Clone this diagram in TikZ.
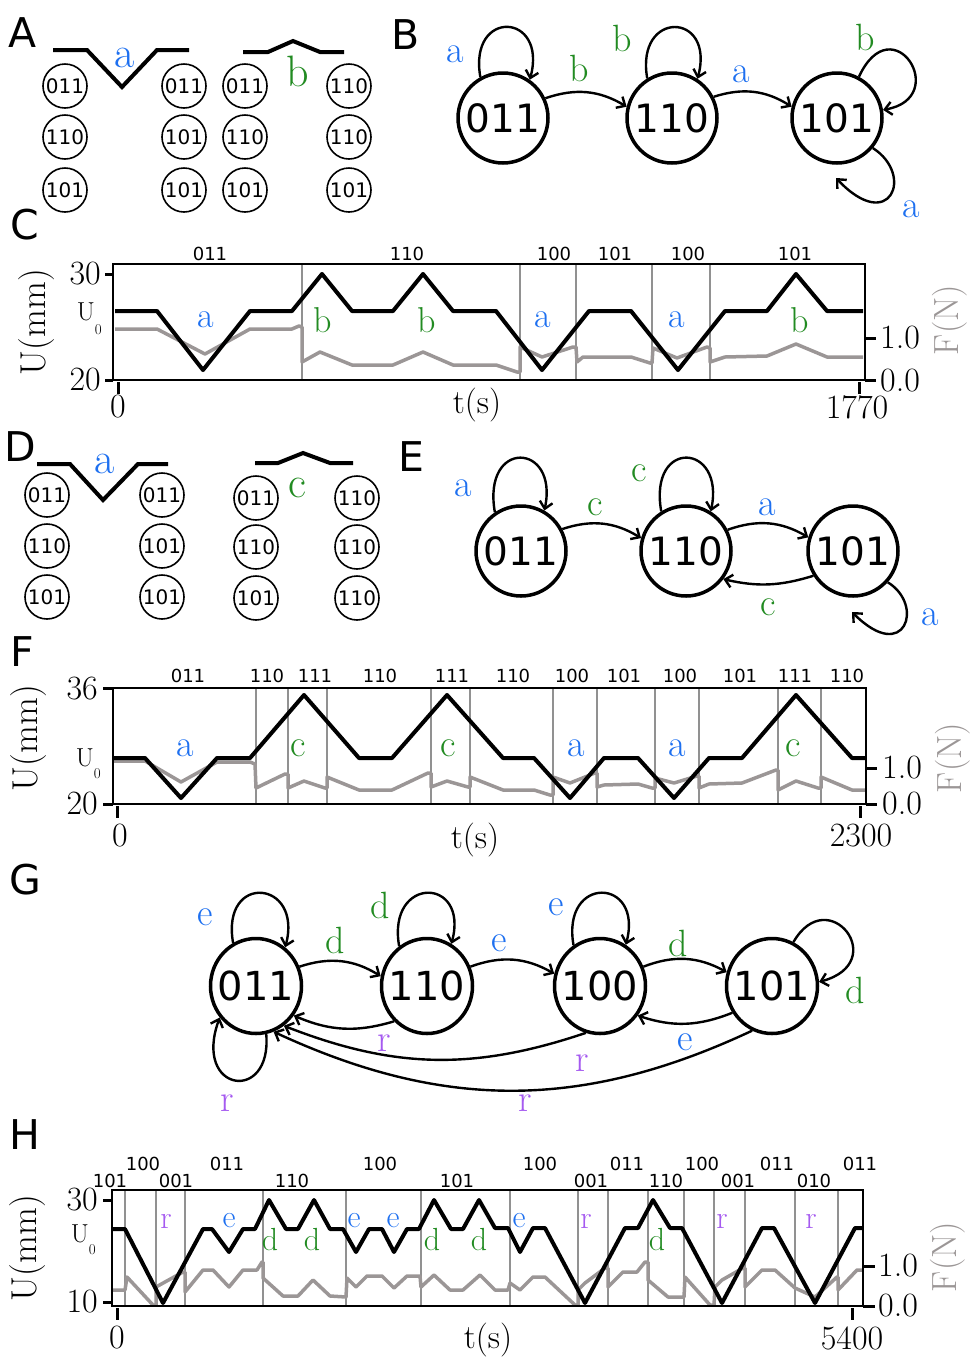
\documentclass[tikz,border=0pt]{standalone}
\usepackage{fontspec}
\usetikzlibrary{arrows.meta,shapes.geometric}
\newfontfamily\statefont{DejaVu Sans}
\definecolor{tblue}{RGB}{30,112,240}
\definecolor{tgreen}{RGB}{34,139,34}
\definecolor{tpurple}{RGB}{165,90,240}
\definecolor{fgray}{RGB}{155,150,150}
\definecolor{vgray}{RGB}{145,145,145}
\tikzset{
  lsz/.style={font=\fontsize{#1}{#1}\selectfont},
  blab/.style={text=tblue},
  glab/.style={text=tgreen},
  plab/.style={text=tpurple},
  flab/.style={text=fgray},
  panel/.style={font=\statefont\fontsize{41}{41}\selectfont},
  bigstate/.style={circle, draw, line width=3.5pt, minimum size=90pt, font=\statefont\fontsize{39}{39}\selectfont},
  ovalstate/.style={ellipse, draw, line width=3.5pt, inner xsep=-15pt, minimum width=91pt, minimum height=95pt, font=\statefont\fontsize{40}{40}\selectfont},
  smallstate/.style={circle, draw, line width=1.6pt, minimum size=44pt, font=\statefont\fontsize{20}{20}\selectfont},
  toplab/.style={font=\statefont\fontsize{18}{18}\selectfont},
  trans/.style={-{Straight Barb[length=7pt,width=13pt]}, line width=2.4pt},
  wavepath/.style={line width=4pt},
  uline/.style={line width=4pt, line join=round},
  fline/.style={line width=3.5pt, fgray, line join=round},
  vline/.style={line width=1.5pt, vgray},
  plotbox/.style={line width=2.5pt},
  axtick/.style={line width=3pt}
}
\begin{document}
\begin{tikzpicture}[x=1pt, y=1pt, inner sep=0pt]
  \useasboundingbox (0,0) rectangle (978,-1361);

  % Panel A: the moves a and b
  \node[panel] (pA) at (23,-33) {A};
  \draw[wavepath] (53,-50) -- (87,-50) -- (122,-87) -- (157,-50) -- (189,-50);
  \node[blab, lsz=44] (wa) at (125,-58) {a};
  \draw[wavepath] (243,-52) -- (268,-52) -- (293,-41) -- (320,-52) -- (344,-52);
  \node[glab, lsz=44] (wb) at (298,-71) {b};
  \foreach \x/\nm/\ta/\tb/\tc in {65/al/011/110/101, 184/ar/011/101/101, 245/bl/011/110/101, 349/br/110/110/101} {
    \node[smallstate] (\nm1) at (\x,-86) {\ta};
    \node[smallstate] (\nm2) at (\x,-137) {\tb};
    \node[smallstate] (\nm3) at (\x,-190) {\tc};
  }

  % Panel B: state graph
  \node[panel] (pB) at (406,-35) {B};
  \node[bigstate] (b011) at (503,-118) {011};
  \node[bigstate] (b110) at (672,-118) {110};
  \node[bigstate] (b101) at (837,-118) {101};
  \coordinate (ba) at (836,-178);
  \draw[trans] (b011.119) .. controls +(100:70) and +(75:70) .. (b011.55);
  \draw[trans] (b110.122) .. controls +(100:70) and +(75:70) .. (b110.57);
  \draw[trans] (b101.62) .. controls +(65:80) and +(10:70) .. (b101.10);
  \draw[trans] (b101.-40) .. controls (915,-175) and (890,-235) .. (ba);
  \draw[trans] (b011.25) to[bend left=25] (b110.166);
  \draw[trans] (b110.27) to[bend left=25] (b101.166);
  \node[blab, lsz=38] (b1) at (455,-54) {a};
  \node[glab, lsz=38] (b2) at (579,-68) {b};
  \node[glab, lsz=38] (b3) at (622,-38) {b};
  \node[blab, lsz=38] (b4) at (741,-74) {a};
  \node[glab, lsz=38] (b5) at (865,-37) {b};
  \node[blab, lsz=38] (b6) at (911,-209) {a};

  % Panel C: time trace for a and b
  \node[panel] (pC) at (25,-225) {C};
  \foreach \x in {302,520,576,652,710} \draw[vline] (\x,-264) -- (\x,-380);
  \draw[fline] (115,-329) -- (157,-329) -- (205,-354) -- (250,-329) -- (292,-329) -- (299,-326) -- (302,-327) -- (302,-362) -- (320,-352) -- (352,-365) -- (393,-365) -- (423,-352) -- (453,-365) -- (496,-365) -- (517,-372) -- (520,-372) -- (520,-347) -- (542,-357) -- (573,-347) -- (576,-347) -- (577,-362) -- (583,-357) -- (631,-357) -- (650,-363) -- (652,-363) -- (653,-348) -- (677,-358) -- (707,-347) -- (710,-348) -- (710,-362) -- (725,-357) -- (767,-356) -- (796,-344) -- (827,-357) -- (863,-357);
  \draw[uline] (115,-311) -- (157,-311) -- (203,-370) -- (250,-311) -- (292,-311) -- (322,-274) -- (352,-311) -- (393,-311) -- (423,-274) -- (453,-311) -- (496,-311) -- (542,-370) -- (589,-311) -- (631,-311) -- (678,-370) -- (725,-311) -- (767,-311) -- (796,-274) -- (827,-311) -- (863,-311);
  \draw[plotbox] (113,-264) rectangle (865,-380);
  \draw[axtick] (113,-274) -- (105,-274);
  \draw[axtick] (113,-380) -- (105,-380);
  \draw[axtick] (865,-338) -- (876,-338);
  \draw[axtick] (865,-380) -- (876,-380);
  \draw[axtick] (118,-382) -- (118,-394);
  \draw[axtick] (859,-382) -- (859,-394);
  \node[lsz=34, anchor=east] (c30) at (101,-274) {30};
  \node[lsz=34, anchor=east] (c20) at (101,-380) {20};
  \node[lsz=26, anchor=base east] (cu0) at (102,-320) {U\raisebox{-14pt}{\fontsize{15}{15}\selectfont 0}};
  \node[lsz=36, rotate=90] (cy) at (37,-322) {U(mm)};
  \node[lsz=34, anchor=west] (cf1) at (880,-338) {1.0};
  \node[lsz=34, anchor=west] (cf0) at (880,-381) {0.0};
  \node[lsz=35, rotate=90, flab] (cyf) at (950,-320) {F(N)};
  \node[lsz=34] (cx0) at (118,-407) {0};
  \node[lsz=34] (cx1) at (857,-407) {1770};
  \node[lsz=34] (cxt) at (477,-405) {t(s)};
  \foreach \x/\st [count=\i] in {210/011, 407/110, 554/100, 615/101, 688/100, 795/101}
    \node[toplab] (ct\i) at (\x,-254) {\st};
  \foreach \x/\st/\sty [count=\i] in {206/a/blab, 323/b/glab, 427/b/glab, 543/a/blab, 677/a/blab, 800/b/glab}
    \node[\sty, lsz=36] (cl\i) at (\x,-320) {\st};

  % Panel D: the moves a and c
  \node[panel] (pD) at (20,-447) {D};
  \draw[wavepath] (37,-464) -- (70,-464) -- (103,-500) -- (138,-464) -- (168,-464);
  \node[blab, lsz=44] (da) at (105,-464) {a};
  \draw[wavepath] (255,-463) -- (278,-463) -- (303,-453) -- (330,-463) -- (353,-463);
  \node[glab, lsz=44] (dc) at (297,-488) {c};
  \foreach \x/\nm/\ta/\tb/\tc in {47/dl/011/110/101, 162/dr/011/101/101} {
    \node[smallstate] (\nm1) at (\x,-495) {\ta};
    \node[smallstate] (\nm2) at (\x,-546) {\tb};
    \node[smallstate] (\nm3) at (\x,-597) {\tc};
  }
  \foreach \x/\nm/\ta/\tb/\tc in {256/el/011/110/101, 357/er/110/110/110} {
    \node[smallstate] (\nm1) at (\x,-498) {\ta};
    \node[smallstate] (\nm2) at (\x,-547) {\tb};
    \node[smallstate] (\nm3) at (\x,-598) {\tc};
  }

  % Panel E: state graph
  \node[panel] (pE) at (411,-457) {E};
  \node[bigstate] (e011) at (521,-551) {011};
  \node[bigstate] (e110) at (686,-551) {110};
  \node[bigstate] (e101) at (853,-551) {101};
  \coordinate (ea) at (852,-612);
  \draw[trans] (e011.124) .. controls +(100:75) and +(78:70) .. (e011.60);
  \draw[trans] (e110.122) .. controls +(100:75) and +(78:70) .. (e110.58);
  \draw[trans] (e011.28) to[bend left=25] (e110.164);
  \draw[trans] (e110.27) to[bend left=25] (e101.163);
  \draw[trans] (e101.212) to[bend left=15] (e110.323);
  \draw[trans] (e101.-42) .. controls (925,-605) and (905,-665) .. (ea);
  \node[blab, lsz=38] (e1) at (463,-488) {a};
  \node[glab, lsz=38] (e2) at (595,-507) {c};
  \node[glab, lsz=38] (e3) at (639,-473) {c};
  \node[blab, lsz=38] (e4) at (767,-507) {a};
  \node[glab, lsz=38] (e5) at (768,-607) {c};
  \node[blab, lsz=38] (e6) at (930,-617) {a};

  % Panel F: time trace for a and c
  \node[panel] (pF) at (22,-652) {F};
  \foreach \x in {256,288,327,431,470,553,597,655,699,778,821} \draw[vline] (\x,-688) -- (\x,-804);
  \draw[fline] (113,-761) -- (145,-761) -- (181,-782) -- (217,-762) -- (250,-762) -- (255,-764) -- (256,-788) -- (285,-774) -- (288,-774) -- (288,-788) -- (304,-781) -- (325,-788) -- (327,-788) -- (327,-777) -- (359,-790) -- (392,-790) -- (428,-773) -- (431,-773) -- (431,-787) -- (447,-781) -- (468,-787) -- (470,-787) -- (470,-777) -- (503,-790) -- (534,-790) -- (550,-795) -- (553,-795) -- (553,-777) -- (570,-783) -- (595,-773) -- (597,-773) -- (597,-787) -- (604,-785) -- (638,-784) -- (652,-788) -- (655,-788) -- (655,-778) -- (674,-783) -- (697,-776) -- (699,-776) -- (699,-788) -- (709,-784) -- (742,-783) -- (776,-770) -- (778,-770) -- (778,-790) -- (796,-781) -- (818,-788) -- (821,-788) -- (821,-777) -- (852,-790) -- (866,-790);
  \draw[uline] (113,-758) -- (145,-758) -- (181,-798) -- (217,-758) -- (250,-758) -- (304,-695) -- (359,-758) -- (392,-758) -- (447,-695) -- (503,-758) -- (534,-758) -- (570,-798) -- (604,-758) -- (638,-758) -- (674,-798) -- (709,-758) -- (742,-758) -- (796,-695) -- (852,-758) -- (866,-758);
  \draw[plotbox] (113,-688) rectangle (866,-804);
  \draw[axtick] (113,-688) -- (103,-688);
  \draw[axtick] (113,-804) -- (103,-804);
  \draw[axtick] (866,-768) -- (877,-768);
  \draw[axtick] (866,-804) -- (877,-804);
  \draw[axtick] (117,-806) -- (117,-818);
  \draw[axtick] (860,-806) -- (860,-818);
  \node[lsz=34, anchor=east] (f36) at (98,-689) {36};
  \node[lsz=34, anchor=east] (f20) at (98,-804) {20};
  \node[lsz=26, anchor=base east] (fu0) at (101,-766) {U\raisebox{-12pt}{\fontsize{15}{15}\selectfont 0}};
  \node[lsz=36, rotate=90] (fy) at (29,-738) {U(mm)};
  \node[lsz=34, anchor=west] (ff1) at (882,-768) {1.0};
  \node[lsz=34, anchor=west] (ff0) at (882,-804) {0.0};
  \node[lsz=35, rotate=90, flab] (fyf) at (953,-758) {F(N)};
  \node[lsz=34] (fx0) at (120,-836) {0};
  \node[lsz=34] (fx1) at (861,-836) {2300};
  \node[lsz=34] (fxt) at (475,-840) {t(s)};
  \foreach \x/\st [count=\i] in {188/011, 267/110, 315/111, 380/110, 452/111, 513/110, 572/100, 624/101, 680/100, 740/101, 795/111, 847/110}
    \node[toplab] (ft\i) at (\x,-676) {\st};
  \foreach \x/\st/\sty [count=\i] in {185/a/blab, 298/c/glab, 448/c/glab, 576/a/blab, 677/a/blab, 793/c/glab}
    \node[\sty, lsz=38] (fl\i) at (\x,-748) {\st};

  % Panel G: state graph with reset
  \node[panel] (pG) at (25,-880) {G};
  \node[ovalstate] (g011) at (256,-986) {011};
  \node[ovalstate] (g110) at (427,-986) {110};
  \node[ovalstate] (g100) at (600,-986) {100};
  \node[ovalstate] (g101) at (772,-986) {101};
  \draw[trans] (g011.118) .. controls +(100:72) and +(75:70) .. (g011.53);
  \draw[trans] (g110.125) .. controls +(100:72) and +(75:70) .. (g110.60);
  \draw[trans] (g100.123) .. controls +(100:72) and +(75:70) .. (g100.58);
  \draw[trans] (g101.64) .. controls +(60:70) and +(15:75) .. (g101.5);
  \draw[trans] (g011.282) .. controls +(275:70) and +(250:80) .. (g011.221);
  \draw[trans] (g011.24) to[bend left=25] (g110.168);
  \draw[trans] (g110.24) to[bend left=25] (g100.165);
  \draw[trans] (g100.24) to[bend left=25] (g101.163);
  \draw[trans] (g110.227) to[bend left=20] (g011.322);
  \draw[trans] (g101.214) to[bend left=20] (g100.322);
  \draw[trans] (g100.253) to[bend left=20] (g011.305);
  \draw[trans] (g101.246) to[bend left=25] (g011.291);
  \node[blab, lsz=38] (g1) at (205,-917) {e};
  \node[glab, lsz=38] (g2) at (335,-940) {d};
  \node[glab, lsz=38] (g3) at (380,-905) {d};
  \node[blab, lsz=38] (g4) at (499,-943) {e};
  \node[blab, lsz=38] (g5) at (556,-907) {e};
  \node[glab, lsz=38] (g6) at (678,-943) {d};
  \node[glab, lsz=38] (g7) at (855,-990) {d};
  \node[plab, lsz=38] (g8) at (384,-1043) {r};
  \node[blab, lsz=38] (g9) at (685,-1042) {e};
  \node[plab, lsz=38] (g10) at (582,-1063) {r};
  \node[plab, lsz=38] (g11) at (525,-1103) {r};
  \node[plab, lsz=38] (g12) at (227,-1103) {r};

  % Panel H: time trace with reset
  \node[panel] (pH) at (25,-1135) {H};
  \foreach \x in {125,156,185,263,346,421,510,578,608,648,684,714,745,795,838} \draw[vline] (\x,-1190) -- (\x,-1306);
  \draw[fline] (112,-1290) -- (125,-1290) -- (127,-1277) -- (153,-1305) -- (156,-1305) -- (156,-1287) -- (183,-1272) -- (185,-1272) -- (185,-1292) -- (203,-1270) -- (213,-1270) -- (229,-1287) -- (243,-1270) -- (257,-1270) -- (262,-1262) -- (263,-1262) -- (263,-1278) -- (283,-1296) -- (298,-1296) -- (313,-1280) -- (330,-1296) -- (346,-1297) -- (347,-1278) -- (356,-1287) -- (367,-1276) -- (382,-1276) -- (394,-1288) -- (407,-1276) -- (420,-1276) -- (421,-1287) -- (434,-1275) -- (450,-1290) -- (463,-1290) -- (480,-1275) -- (495,-1290) -- (508,-1290) -- (510,-1283) -- (520,-1290) -- (533,-1277) -- (545,-1277) -- (575,-1305) -- (578,-1305) -- (578,-1290) -- (585,-1283) -- (605,-1268) -- (608,-1268) -- (608,-1287) -- (623,-1272) -- (637,-1272) -- (645,-1262) -- (648,-1262) -- (648,-1280) -- (668,-1297) -- (684,-1297) -- (685,-1277) -- (710,-1305) -- (714,-1305) -- (715,-1287) -- (722,-1280) -- (743,-1268) -- (745,-1268) -- (745,-1287) -- (762,-1270) -- (775,-1270) -- (795,-1288) -- (815,-1297) -- (837,-1277) -- (838,-1277) -- (838,-1290) -- (857,-1270) -- (863,-1270);
  \draw[uline] (112,-1229) -- (125,-1229) -- (163,-1303) -- (203,-1229) -- (212,-1229) -- (229,-1252) -- (243,-1229) -- (255,-1229) -- (269,-1200) -- (286,-1229) -- (298,-1229) -- (314,-1200) -- (330,-1229) -- (343,-1229) -- (356,-1252) -- (369,-1229) -- (382,-1229) -- (394,-1252) -- (407,-1229) -- (419,-1229) -- (434,-1200) -- (451,-1229) -- (463,-1229) -- (479,-1200) -- (495,-1228) -- (508,-1228) -- (520,-1252) -- (533,-1228) -- (545,-1228) -- (585,-1303) -- (625,-1228) -- (638,-1228) -- (653,-1200) -- (670,-1228) -- (682,-1228) -- (722,-1303) -- (762,-1228) -- (774,-1228) -- (815,-1303) -- (855,-1228) -- (863,-1228);
  \draw[plotbox] (112,-1190) rectangle (863,-1306);
  \draw[axtick] (112,-1200) -- (103,-1200);
  \draw[axtick] (112,-1302) -- (103,-1302);
  \draw[axtick] (863,-1266) -- (875,-1266);
  \draw[axtick] (863,-1306) -- (875,-1306);
  \draw[axtick] (117,-1308) -- (117,-1320);
  \draw[axtick] (852,-1308) -- (852,-1320);
  \node[lsz=34, anchor=east] (h30) at (98,-1200) {30};
  \node[lsz=34, anchor=east] (h10) at (98,-1302) {10};
  \node[lsz=26, anchor=base east] (hu0) at (96,-1242) {U\raisebox{-12pt}{\fontsize{15}{15}\selectfont 0}};
  \node[lsz=36, rotate=90] (hy) at (28,-1248) {U(mm)};
  \node[lsz=34, anchor=west] (hf1) at (878,-1266) {1.0};
  \node[lsz=34, anchor=west] (hf0) at (878,-1306) {0.0};
  \node[lsz=35, rotate=90, flab] (hyf) at (948,-1257) {F(N)};
  \node[lsz=34] (hx0) at (117,-1338) {0};
  \node[lsz=34] (hx1) at (852,-1338) {5400};
  \node[lsz=34] (hxt) at (488,-1340) {t(s)};
  \foreach \x/\st [count=\i] in {143/100, 227/011, 380/100, 540/100, 627/011, 702/100, 777/011, 860/011}
    \node[toplab] (hu\i) at (\x,-1164) {\st};
  \foreach \x/\st [count=\i] in {110/101, 176/001, 292/110, 457/101, 591/001, 666/110, 738/001, 814/010}
    \node[toplab] (hd\i) at (\x,-1181) {\st};
  \foreach \x/\y/\st/\sty [count=\i] in {166/1221/r/plab, 229/1221/e/blab, 270/1240/d/glab, 312/1240/d/glab, 354/1221/e/blab, 393/1221/e/blab, 432/1240/d/glab, 479/1240/d/glab, 519/1221/e/blab, 586/1221/r/plab, 657/1240/d/glab, 722/1221/r/plab, 811/1221/r/plab}
    \node[\sty, lsz=32] (hl\i) at (\x,-\y) {\st};
\end{tikzpicture}
\end{document}
